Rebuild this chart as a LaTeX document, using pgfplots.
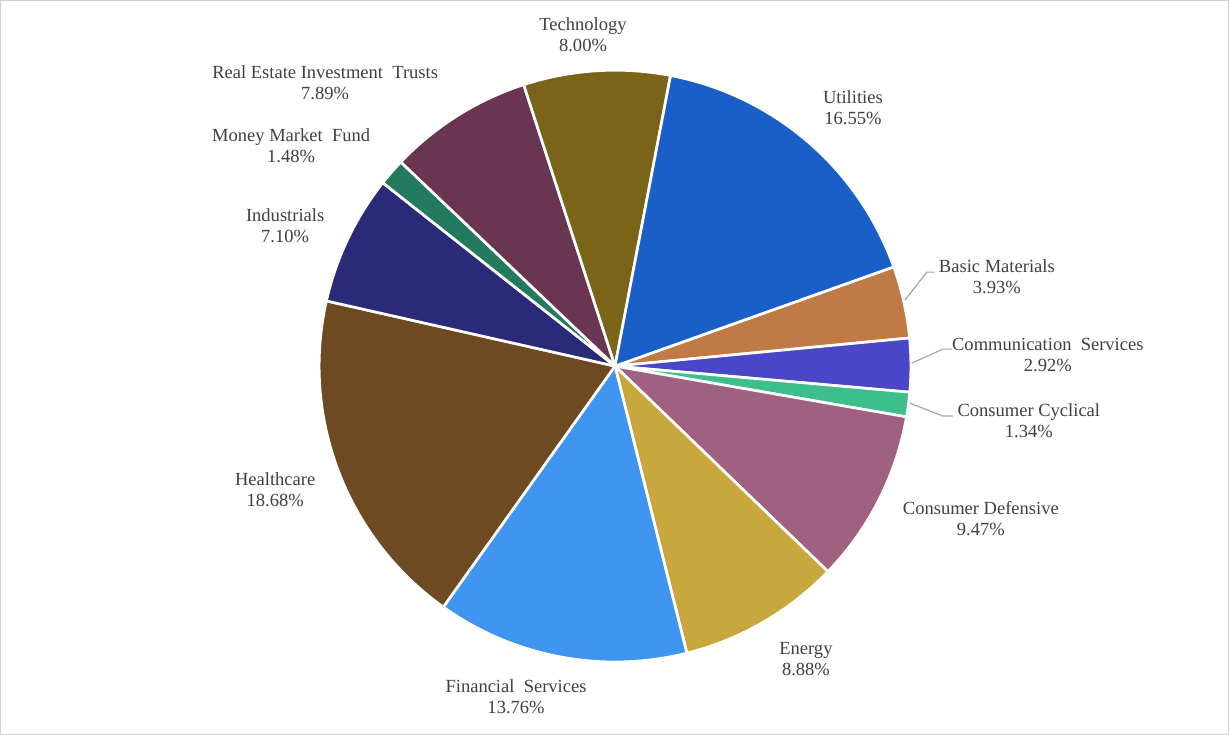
\documentclass[border=0pt]{standalone}
\usepackage{fontspec}
\setmainfont{Liberation Serif}
\usepackage{pgfplots}
\pgfplotsset{compat=1.18}

\definecolor{cUtil}{HTML}{1A5FC8}
\definecolor{cBasic}{HTML}{C07A45}
\definecolor{cComm}{HTML}{4A46C8}
\definecolor{cCyc}{HTML}{3DBF8C}
\definecolor{cDef}{HTML}{A0607F}
\definecolor{cEnergy}{HTML}{C8A83C}
\definecolor{cFin}{HTML}{3F95F0}
\definecolor{cHealth}{HTML}{6E4A22}
\definecolor{cInd}{HTML}{2A2A78}
\definecolor{cMMF}{HTML}{237A5E}
\definecolor{cREIT}{HTML}{6A3550}
\definecolor{cTech}{HTML}{7A6418}
\definecolor{txt}{HTML}{404040}
\definecolor{lead}{HTML}{A6A6A6}

% #1 = cumulative percent before the slice, #2 = slice percent, #3 = colour
\newcommand{\pieslice}[3]{%
  \addplot[fill=#3, draw=white, line width=2pt, line join=round,
    domain=19.6-3.6*(#1+#2):19.6-3.6*(#1), samples=90, variable=\t]
    ({615+296*cos(\t)},{368+296*sin(\t)}) -- (axis cs:615,368) -- cycle;}
\newcommand{\dsp}{\hspace{0.5em}}

\begin{document}
\begin{tikzpicture}[lbl/.style={font=\fontsize{13.9}{15.75}\selectfont, text=txt, align=center, inner sep=0pt}]
\begin{axis}[
  scale only axis, x=0.75pt, y=0.75pt,
  xmin=0, xmax=1229, ymin=0, ymax=734,
  xtick=\empty, ytick=\empty,
  axis line style={draw=black!18},
  clip=false,
]
% percentages (clockwise from Basic Materials)
\pieslice{0}{3.93}{cBasic}
\pieslice{3.93}{2.92}{cComm}
\pieslice{6.85}{1.34}{cCyc}
\pieslice{8.19}{9.47}{cDef}
\pieslice{17.66}{8.88}{cEnergy}
\pieslice{26.54}{13.76}{cFin}
\pieslice{40.30}{18.68}{cHealth}
\pieslice{58.98}{7.10}{cInd}
\pieslice{66.08}{1.48}{cMMF}
\pieslice{67.56}{7.89}{cREIT}
\pieslice{75.45}{8.00}{cTech}
\pieslice{83.45}{16.55}{cUtil}

% leader lines
\addplot[lead, line width=0.9pt, no marks] coordinates {(905,434) (927,462) (935,462)};
\addplot[lead, line width=0.9pt, no marks] coordinates {(912,371) (943,385) (952,385)};
\addplot[lead, line width=0.9pt, no marks] coordinates {(910,331) (943,318) (953,318)};

% labels
\node[lbl] at (axis cs:583,700) {Technology\\8.00\%};
\node[lbl] at (axis cs:325,651.5) {Real Estate Investment\dsp Trusts\\7.89\%};
\node[lbl] at (axis cs:291,588.5) {Money Market\dsp Fund\\1.48\%};
\node[lbl] at (axis cs:285,508.5) {Industrials\\7.10\%};
\node[lbl] at (axis cs:275,244.5) {Healthcare\\18.68\%};
\node[lbl] at (axis cs:516,37.5) {Financial\dsp Services\\13.76\%};
\node[lbl] at (axis cs:806,74.5) {Energy\\8.88\%};
\node[lbl] at (axis cs:981,215.5) {Consumer Defensive\\9.47\%};
\node[lbl] at (axis cs:1029,313) {Consumer Cyclical\\1.34\%};
\node[lbl] at (axis cs:1048,379.5) {Communication\dsp Services\\2.92\%};
\node[lbl] at (axis cs:997,457.5) {Basic Materials\\3.93\%};
\node[lbl] at (axis cs:853,626.5) {Utilities\\16.55\%};
\end{axis}
\end{tikzpicture}
\end{document}
